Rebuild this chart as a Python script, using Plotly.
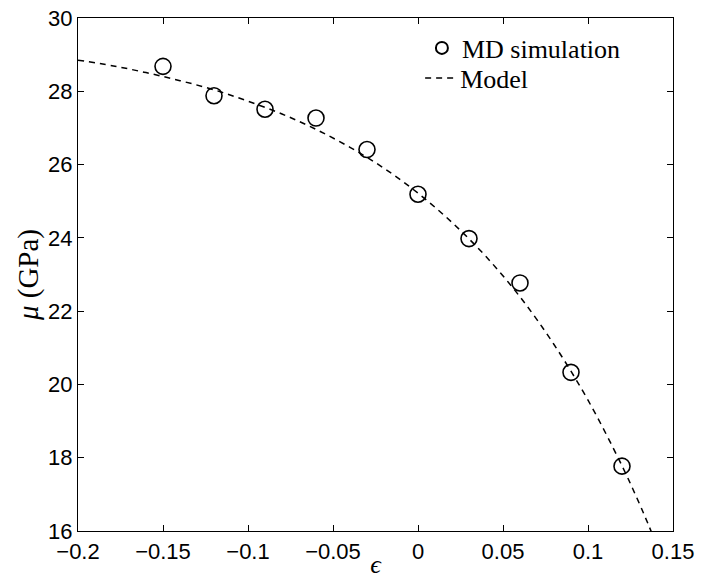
import plotly.graph_objects as go

# MD simulation data (strain vs shear modulus)
eps_md = [-0.15, -0.12, -0.09, -0.06, -0.03, 0.0, 0.03, 0.06, 0.09, 0.12]
mu_md = [28.68, 27.88, 27.51, 27.27, 26.41, 25.19, 23.98, 22.77, 20.33, 17.77]

# Model curve
eps_model = [-0.20, -0.18, -0.16, -0.14, -0.12, -0.10, -0.08, -0.06, -0.04, -0.02,
             0.00, 0.02, 0.04, 0.06, 0.08, 0.10, 0.12, 0.13, 0.135, 0.14]
mu_model = [28.85, 28.70, 28.51, 28.29, 28.04, 27.73, 27.38, 26.96, 26.47, 25.90,
            25.22, 24.42, 23.49, 22.39, 21.09, 19.57, 17.78, 16.77, 16.23, 15.67]

x_ticks = [-0.2, -0.15, -0.1, -0.05, 0, 0.05, 0.1, 0.15]
x_ticklabels = ["\u22120.2", "\u22120.15", "\u22120.1", "\u22120.05", "0", "0.05", "0.1", "0.15"]
y_ticks = [16, 18, 20, 22, 24, 26, 28, 30]

SERIF = "Liberation Serif, Times New Roman, serif"
SANS = "Liberation Sans, Arial, sans-serif"

fig = go.Figure()
fig.add_trace(go.Scatter(
    x=eps_md, y=mu_md, mode="markers", name="MD simulation", legend="legend",
    marker=dict(symbol="circle-open", size=16, color="black", line=dict(width=1.6, color="black")),
))
fig.add_trace(go.Scatter(
    x=eps_model, y=mu_model, mode="lines", name="Model", line_shape="spline", legend="legend2",
    line=dict(color="black", width=1.5, dash="6px,5px"),
))

axis_common = dict(
    showline=True, linecolor="black", linewidth=1.3, mirror="ticks",
    ticks="inside", ticklen=6, tickwidth=1, tickcolor="black",
    showgrid=False, zeroline=False, automargin=False,
    tickfont=dict(family=SANS, size=22, color="black"),
)

legend_common = dict(
    xanchor="left", yanchor="middle",
    bgcolor="rgba(0,0,0,0)", borderwidth=0,
    font=dict(family=SERIF, size=26, color="black"),
    itemwidth=30, tracegroupgap=0,
)

fig.update_layout(
    template="none",
    width=701, height=579,
    margin=dict(l=78, r=28, t=18, b=48),
    paper_bgcolor="white", plot_bgcolor="white",
    showlegend=True,
    legend=dict(x=0.578, y=1 - (48 - 18) / 513, itemsizing="constant", **legend_common),
    legend2=dict(x=0.575, y=1 - (78 - 18) / 513, **legend_common),
    xaxis=dict(range=[-0.2, 0.15], tickvals=x_ticks, ticktext=x_ticklabels,
               title=dict(text="<i>\u03f5</i>", font=dict(family=SERIF, size=26, color="black"), standoff=0),
               **axis_common),
    yaxis=dict(range=[16, 30], tickvals=y_ticks,
               title=dict(text="<i>\u03bc</i> (GPa)", font=dict(family=SERIF, size=29, color="black"), standoff=0),
               **axis_common),
)

fig.write_html("out.html")
